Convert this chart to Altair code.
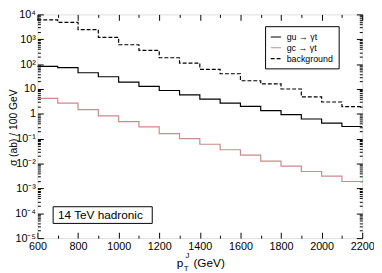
import json
import altair as alt
import pandas as pd

# ---------------- data ----------------
bin_lo = [600, 700, 800, 900, 1000, 1100, 1200, 1300, 1400, 1500, 1600, 1700, 1800, 1900, 2000, 2100]
x_end = 2200
gu = [81, 72, 45, 31, 19, 12.7, 8.7, 5.8, 3.9, 2.7, 2.0, 1.35, 0.93, 0.62, 0.42, 0.31]
gc = [4.2, 2.7, 1.48, 0.83, 0.49, 0.30, 0.16, 0.10, 0.06, 0.036, 0.022, 0.0125, 0.0079, 0.0048, 0.0031, 0.0019]
bg = [6000, 4800, 2450, 1200, 600, 360, 180, 110, 62, 41, 21.5, 16, 10, 4.8, 3.0, 1.95]
series_names = ["gu \u2192 \u03b3t", "gc \u2192 \u03b3t", "background"]
series_colors = ["#000000", "#c98b8b", "#000000"]
series_dash = [[1, 0], [1, 0], [4, 2]]

x_major = [600, 800, 1000, 1200, 1400, 1600, 1800, 2000, 2200]
x_minor = [700, 900, 1100, 1300, 1500, 1700, 1900, 2100]
y_major = [1e-5, 1e-4, 1e-3, 1e-2, 1e-1, 1, 10, 1e2, 1e3, 1e4]
y_major_labels = ["10\u207b\u2075", "10\u207b\u2074", "10\u207b\u00b3", "10\u207b\u00b2", "10\u207b\u00b9",
                  "1", "10", "10\u00b2", "10\u00b3", "10\u2074"]
y_minor = [m * 10.0 ** e for e in range(-5, 4) for m in range(2, 10)]

rows = []
for name, vals in zip(series_names, [gu, gc, bg]):
    for e, v in zip(bin_lo + [x_end], vals + [vals[-1]]):
        rows.append({"x": e, "y": v, "series": name})
df = pd.DataFrame(rows)

W, H = 331, 228
FONT = "Liberation Sans"

xscale = alt.Scale(domain=[600, 2200], nice=False, zero=False)
yscale = alt.Scale(type="log", domain=[1e-5, 1e4], nice=False)

label_expr = json.dumps(y_major_labels) + "[round(log(datum.value)/LN10)+5]"

legend = alt.Legend(orient="none", legendX=232, legendY=12, title=None, symbolType="stroke",
                    symbolSize=110, symbolStrokeWidth=1.2, labelFontSize=9, labelFont=FONT,
                    padding=5, strokeColor="#000000", fillColor="white", rowPadding=0,
                    labelOffset=5, labelColor="#000000")

lines = alt.Chart(df).mark_line(interpolate="step-after", strokeWidth=1.2).encode(
    x=alt.X("x:Q", scale=xscale,
            axis=alt.Axis(values=x_major, format="d", ticks=False, domain=False, grid=False, title=None,
                          labelFontSize=11, labelPadding=3, labelFlush=False)),
    y=alt.Y("y:Q", scale=yscale,
            axis=alt.Axis(values=y_major, labelExpr=label_expr, ticks=False, domain=False, grid=False,
                          title="\u03c3 (ab) / 100 GeV", titleFontSize=10.5, titleFontWeight="normal",
                          titleX=-21, titleY=115, titleBaseline="alphabetic", titleAngle=270,
                          titleAlign="center",
                          labelFontSize=11, labelPadding=2, labelFlush=False)),
    color=alt.Color("series:N", scale=alt.Scale(domain=series_names, range=series_colors), legend=legend),
    strokeDash=alt.StrokeDash("series:N", scale=alt.Scale(domain=series_names, range=series_dash), legend=legend),
)


def tick_layer(xvals, yvals, size, inner_bottom_left):
    if inner_bottom_left:
        xo, yo = "top", "right"
    else:
        xo, yo = "bottom", "left"
    return alt.Chart(df).mark_point(opacity=0).encode(
        x=alt.X("x:Q", scale=xscale,
                axis=alt.Axis(orient=xo, offset=-H, values=xvals, tickSize=size, labels=False,
                              domain=False, grid=False, title=None, tickColor="#000000")),
        y=alt.Y("y:Q", scale=yscale,
                axis=alt.Axis(orient=yo, offset=-W, values=yvals, tickSize=size, labels=False,
                              domain=False, grid=False, title=None, tickColor="#000000")),
    )


t1 = tick_layer(x_major, y_major, 6, True)
t2 = tick_layer(x_major, y_major, 6, False)
t3 = tick_layer(x_minor, y_minor, 3, True)
t4 = tick_layer(x_minor, y_minor, 3, False)

box = alt.Chart(pd.DataFrame({"a": [0]})).mark_rect(fill="white", stroke="#000000", strokeWidth=1).encode(
    x=alt.value(16), x2=alt.value(117), y=alt.value(196), y2=alt.value(213))
box_text = alt.Chart(pd.DataFrame({"a": [0]})).mark_text(
    text="14 TeV hadronic", fontSize=12, font=FONT, align="left", baseline="middle", color="#000000"
).encode(x=alt.value(21), y=alt.value(205))

xt_p = alt.Chart(pd.DataFrame({"a": [0]})).mark_text(
    text="p", fontSize=12, font=FONT, align="left", baseline="alphabetic", color="#000000"
).encode(x=alt.value(142), y=alt.value(257))
xt_T = alt.Chart(pd.DataFrame({"a": [0]})).mark_text(
    text="T", fontSize=8, font=FONT, align="left", baseline="alphabetic", color="#000000"
).encode(x=alt.value(149), y=alt.value(262))
xt_J = alt.Chart(pd.DataFrame({"a": [0]})).mark_text(
    text="J", fontSize=8, font=FONT, align="left", baseline="alphabetic", color="#000000"
).encode(x=alt.value(151), y=alt.value(248))
xt_g = alt.Chart(pd.DataFrame({"a": [0]})).mark_text(
    text="(GeV)", fontSize=12, font=FONT, align="left", baseline="alphabetic", color="#000000"
).encode(x=alt.value(159), y=alt.value(257))

chart = alt.layer(lines, t1, t2, t3, t4, box, box_text, xt_p, xt_T, xt_J, xt_g).resolve_axis(
    x="independent", y="independent"
).properties(
    width=W, height=H,
    autosize=alt.AutoSizeParams(type="none"),
    padding={"left": 30, "top": 4, "right": 12, "bottom": 33},
).configure_view(stroke="#000000", strokeWidth=1).configure_axis(
    labelFont=FONT, titleFont=FONT, labelColor="#000000", titleColor="#000000"
).configure(font=FONT)

chart.save("out.html", embed_options={"renderer": "svg", "actions": False})
